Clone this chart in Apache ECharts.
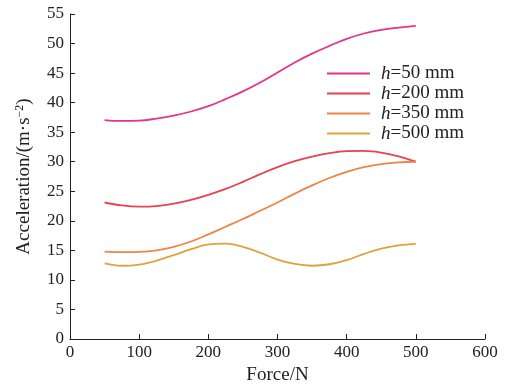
<!DOCTYPE html>
<html>
<head>
<meta charset="utf-8">
<script src="https://cdn.jsdelivr.net/npm/echarts@6/dist/echarts.min.js"></script>
<style>
  html, body {margin: 0; padding: 0; background: #fff;}
  #chart {width: 507px; height: 391px;}
</style>
</head>
<body>
<div id="chart"></div>
<script>
// force values (N)
const forces = [50, 75, 100, 125, 150, 175, 200, 225, 250, 275, 300, 325, 350, 375, 400, 425, 450, 475, 500];

// acceleration for each drop height h (mm)
const seriesNames = ['50', '200', '350', '500'];
const h50 = [37.05, 36.9, 36.95, 37.3, 37.8, 38.5, 39.4, 40.6, 41.9, 43.4, 45.1, 46.8, 48.3, 49.6, 50.8, 51.7, 52.3, 52.7, 53.0];
const h200 = [23.1, 22.6, 22.4, 22.5, 22.9, 23.55, 24.4, 25.4, 26.6, 27.9, 29.1, 30.1, 30.85, 31.45, 31.8, 31.85, 31.55, 30.9, 30.0];
const h350 = [14.8, 14.7, 14.75, 15.0, 15.6, 16.5, 17.7, 19.0, 20.3, 21.7, 23.1, 24.6, 26.0, 27.25, 28.3, 29.1, 29.6, 29.9, 30.0];
const h500 = [12.8, 12.4, 12.6, 13.25, 14.2, 15.2, 16.0, 16.15, 15.6, 14.6, 13.45, 12.7, 12.4, 12.65, 13.35, 14.4, 15.3, 15.85, 16.1];
const colors = ['#e2358c', '#e8414f', '#f08444', '#dca43e'];

const yTicks = {min: 0, max: 55, interval: 5};
const xTicks = {min: 0, max: 600, interval: 100};

const font = 'Liberation Serif';
const allValues = [h50, h200, h350, h500];

const chart = echarts.init(document.getElementById('chart'));
chart.setOption({
  animation: false,
  grid: {left: 70, right: 22, top: 14, bottom: 52},
  legend: {
    left: 322,
    top: 59,
    orient: 'vertical',
    itemWidth: 43,
    itemHeight: 2,
    itemGap: 1,
    icon: 'rect',
    data: seriesNames.map(s => 'h=' + s + ' mm'),
    formatter(name) {
      return '{i|h}{n|' + name.slice(1) + '}';
    },
    textStyle: {
      fontFamily: font,
      fontSize: 19,
      color: '#222',
      rich: {
        i: {fontStyle: 'italic', fontFamily: font, fontSize: 19, lineHeight: 20, color: '#222', padding: [0, 0, 0, 6]},
        n: {fontFamily: font, fontSize: 19, lineHeight: 20, color: '#222'}
      }
    }
  },
  xAxis: {
    type: 'value',
    min: xTicks.min, max: xTicks.max, interval: xTicks.interval,
    name: 'Force/N',
    nameLocation: 'middle',
    nameGap: 27,
    nameTextStyle: {fontFamily: font, fontSize: 19, color: '#222'},
    axisLine: {lineStyle: {color: '#222', width: 1}},
    axisTick: {inside: true, length: 5, lineStyle: {color: '#222'}},
    axisLabel: {fontFamily: font, fontSize: 17, color: '#222', margin: 5},
    splitLine: {show: false}
  },
  yAxis: {
    type: 'value',
    min: yTicks.min, max: yTicks.max, interval: yTicks.interval,
    name: '{t|Acceleration/(m·s}{s|−2}{t|)}',
    nameLocation: 'middle',
    nameGap: 35,
    nameTextStyle: {
      fontFamily: font, fontSize: 19, color: '#222',
      rich: {
        t: {fontFamily: font, fontSize: 19, color: '#222'},
        s: {fontFamily: font, fontSize: 12, color: '#222', verticalAlign: 'top', padding: [0, 0, 9, 0]}
      }
    },
    axisLine: {show: true, lineStyle: {color: '#222', width: 1}},
    axisTick: {show: true, inside: true, length: 5, lineStyle: {color: '#222'}},
    axisLabel: {fontFamily: font, fontSize: 17, color: '#222', margin: 6},
    splitLine: {show: false}
  },
  series: seriesNames.map((s, k) => ({
    name: 'h=' + s + ' mm',
    type: 'line',
    smooth: 0.4,
    showSymbol: false,
    color: colors[k],
    lineStyle: {width: 1.8, color: colors[k]},
    data: forces.map((f, i) => [f, allValues[k][i]])
  }))
});
</script>
</body>
</html>
